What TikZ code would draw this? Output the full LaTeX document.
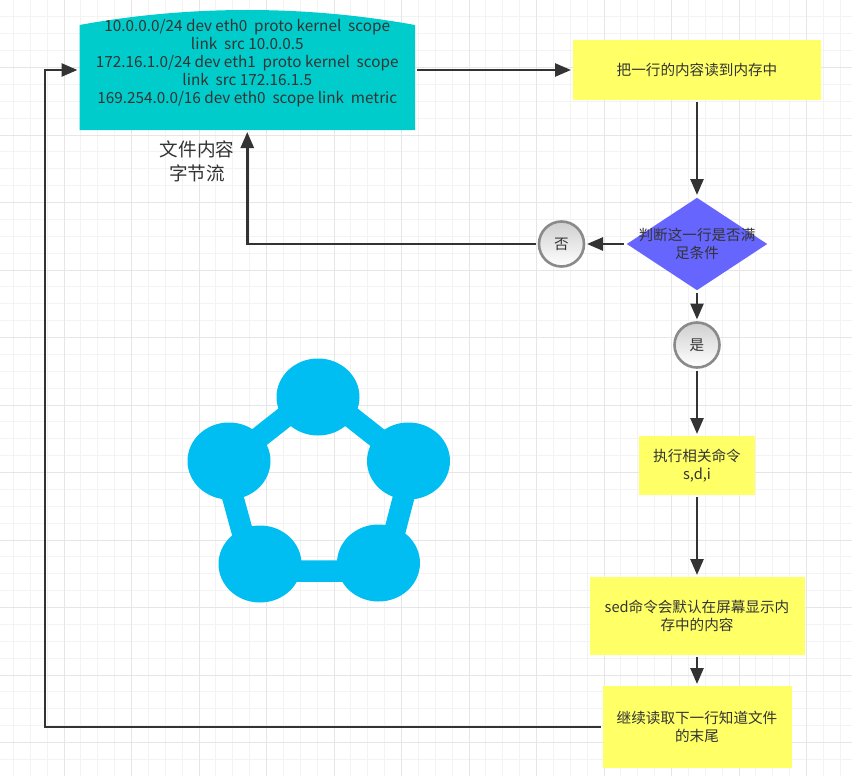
\documentclass[tikz,border=0pt]{standalone}
\usepackage{fontspec}
\setmainfont{Noto Sans CJK SC}
\usetikzlibrary{arrows.meta, shapes.geometric}
\definecolor{ink}{HTML}{333333}
\definecolor{gridminor}{HTML}{F3F3F3}
\definecolor{gridmajor}{HTML}{E6E6E6}
\definecolor{filefill}{HTML}{00CCCC}
\definecolor{stepfill}{HTML}{FFFF66}
\definecolor{condfill}{HTML}{6666FF}
\definecolor{ringgray}{HTML}{8A8A8A}
\definecolor{ballgray}{HTML}{CFCFCF}
\definecolor{netblue}{HTML}{00BEF2}
\tikzset{
  bodytext/.style={font=\fontsize{14.6}{18}\selectfont, text=ink, align=center},
  stepbox/.style={bodytext, fill=stepfill, inner sep=0pt, outer sep=2pt},
  flowline/.style={draw=ink, line width=2.6pt, -{Triangle[length=16pt, width=13pt]}},
  ball/.style={circle, draw=ringgray, line width=2.6pt, top color=ballgray, bottom color=white, bodytext, minimum size=45pt, inner sep=0pt, outer sep=3pt},
  netnode/.style={ellipse, fill=netblue, minimum width=83pt, minimum height=77pt, inner sep=0pt},
  netline/.style={draw=netblue, line width=21.5pt}
}
\begin{document}
\begin{tikzpicture}[x=1pt, y=-1pt]
  \useasboundingbox (0, 0) rectangle (852, 776);
  \fill[white] (0, 0) rectangle (852, 776);
  \foreach \i in {0, ..., 50} {
    \draw[gridminor, line width=1pt] (13.4+16.875*\i, 0) -- (13.4+16.875*\i, 776);
    \draw[gridminor, line width=1pt] (0, 16.875*\i) -- (852, 16.875*\i);
  }
  \foreach \i in {0, ..., 12} {
    \draw[gridmajor, line width=1pt] (64+67.5*\i, 0) -- (64+67.5*\i, 776);
    \draw[gridmajor, line width=1pt] (0, 67.5*\i) -- (852, 67.5*\i);
  }

  \fill[filefill] (79.5, 25) .. controls (190, 5) and (305, 5) .. (415, 25) -- (415, 130) -- (79.5, 130) -- cycle;
  \node[bodytext, font=\fontsize{15.3}{18}\selectfont, minimum width=335.5pt, minimum height=120pt, inner sep=0pt, outer sep=2pt] (file) at (247.25, 70) {10.0.0.0/24 dev eth0\ \ proto kernel\ \ scope\\link\ \ src 10.0.0.5\\172.16.1.0/24 dev eth1\ \ proto kernel\ \ scope\\link\ \ src 172.16.1.5\\169.254.0.0/16 dev eth0\ \ scope link\ \ metric\\~};
  \node[font=\fontsize{18.6}{24}\selectfont, text=ink, align=center] (filelabel) at (197, 161) {文件内容\\字节流};

  \node[stepbox, minimum width=248pt, minimum height=60pt] (readline) at (697, 70) {把一行的内容读到内存中};
  \node[diamond, fill=condfill, minimum width=142pt, minimum height=94pt, inner sep=0pt, outer sep=2pt] (cond) at (697, 244) {};
  \node[bodytext] (condtext) at (cond.center) {判断这一行是否满\\足条件};
  \node[ball] (no) at (561.5, 244) {否};
  \node[ball] (yes) at (697, 345) {是};
  \node[stepbox, minimum width=116pt, minimum height=59pt] (exec) at (697, 465.5) {执行相关命令\\s,d,i};
  \node[stepbox, minimum width=215pt, minimum height=78pt] (sed) at (697, 616) {sed命令会默认在屏幕显示内\\存中的内容};
  \node[stepbox, minimum width=189pt, minimum height=82pt] (cont) at (697, 727) {继续读取下一行知道文件\\的末尾};
  \coordinate (loopturn) at (45, 727);

  \draw[flowline] (file.east |- readline.west) -- (readline.west);
  \draw[flowline] (readline.south) -- (cond.north);
  \draw[flowline] (cond.west) -- (no.east);
  \draw[flowline] (no.west) -| (file.south);
  \draw[flowline] (cond.south) -- (yes.north);
  \draw[flowline] (yes.south) -- (exec.north);
  \draw[flowline] (exec.south) -- (sed.north);
  \draw[flowline] (sed.south) -- (cont.north);
  \draw[flowline] (cont.west) -- (loopturn) |- (file.west);

  \node[netnode] (nettop) at (318, 397) {};
  \node[netnode] (netleft) at (229, 461) {};
  \node[netnode] (netright) at (408.5, 461) {};
  \node[netnode] (netlow) at (260, 564) {};
  \node[netnode] (netlor) at (378.5, 563) {};
  \draw[netline] ([shift={(0, -6)}]nettop.center) -- ([shift={(3.5, 4)}]netright.center) -- ([shift={(6, 8)}]netlor.center) -- ([shift={(-7, 7)}]netlow.center) -- ([shift={(-5, 4)}]netleft.center) -- cycle;
\end{tikzpicture}
\end{document}
